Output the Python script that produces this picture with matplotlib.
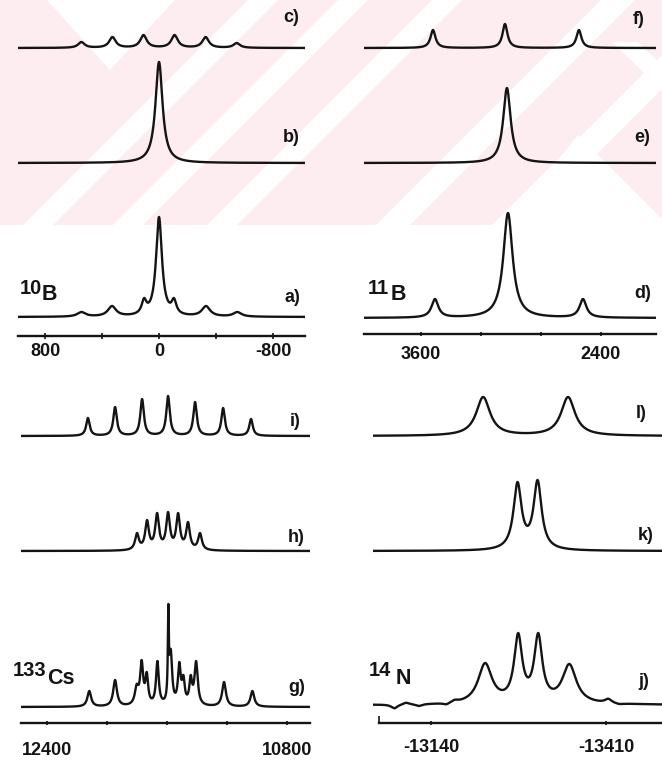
import numpy as np
import matplotlib
matplotlib.use("Agg")
import matplotlib.pyplot as plt
from matplotlib.patches import Polygon, Rectangle

W, H = 662, 760

# ---------------- data ----------------
# 10B panel: a) b) c)
xlim_10B = (990, -1025)
ticks_10B = [800, 0, -800]
minor_10B = [400, -400]
c_pos = [545, 327, 109, -109, -327, -545]
c_hgt = [6, 11, 13, 13, 11, 5]
c_fwhm = [55, 55, 55, 55, 55, 55]
b_pos = [0]
b_hgt = [101]
b_fwhm = [60]
a_pos = [545, 330, 105, 0, -105, -330, -550]
a_hgt = [5, 11, 19, 100, 19, 11, 5]
a_fwhm = [70, 70, 40, 50, 40, 70, 70]

# 11B panel: d) e) f)
xlim_11B = (3980, 2033)
ticks_11B = [3600, 2400]
minor_11B = [3200, 2800]
f_pos = [3520, 3040, 2547]
f_hgt = [18, 24, 18]
f_fwhm = [40, 40, 40]
e_pos = [3027]
e_hgt = [75]
e_fwhm = [60]
d_pos = [3507, 3020, 2520]
d_hgt = [19, 105, 19]
d_fwhm = [55, 75, 55]

# 133Cs panel: g) h) i)
xlim_Cs = (12573, 10647)
ticks_Cs = [12400, 10800]
minor_Cs = [12000, 11600, 11200]
i_pos = [12127, 11946, 11766, 11593, 11413, 11226, 11040]
i_hgt = [18, 29, 37, 40, 34, 28, 17]
i_fwhm = [28, 28, 28, 28, 28, 28, 28]
h_pos = [11800, 11733, 11666, 11593, 11526, 11460, 11380]
h_hgt = [18, 31, 38, 39, 38, 29, 18]
h_fwhm = [30, 30, 30, 30, 30, 30, 30]
g_pos = [12118, 11946, 11802, 11769, 11735, 11664, 11591, 11575,
         11518, 11491, 11442, 11406, 11220, 11031]
g_hgt = [16, 27, 23, 47, 35, 46, 103, 58, 45, 32, 32, 46, 25, 16]
g_fwhm = [30, 30, 30, 24, 22, 22, 8, 22, 22, 22, 22, 26, 30, 30]

# 14N panel: j) k) l)
xlim_N = (-13050, -13496)
ticks_N = [-13140, -13410]
l_pos = [-13220, -13351]
l_hgt = [39, 39]
l_fwhm = [26, 26]
k_pos = [-13273, -13304]
k_hgt = [69, 71]
k_fwhm = [15, 15]
j_pos = [-13223, -13274, -13305, -13353]
j_hgt = [42, 72, 72, 41]
j_fwhm = [26, 15, 15, 26]
j_wig_pos = [-13083, -13101, -13121, -13163, -13176, -13413, -13430]
j_wig_amp = [-4, 2, -2, -2, 2, 4, -1]
j_wig_fwhm = [12, 12, 12, 12, 12, 12, 12]


# ---------------- helpers ----------------
def lor(x, x0, w):
    return 1.0 / (1.0 + ((x - x0) / (w / 2.0)) ** 2)


def spectrum(x, pos, hgt, fwhm):
    pos = np.asarray(pos, float)
    hgt = np.asarray(hgt, float)
    fwhm = np.asarray(fwhm, float)
    A = np.array([[lor(p, pj, wj) for pj, wj in zip(pos, fwhm)] for p in pos])
    amp = np.linalg.solve(A, hgt)
    amp = np.clip(amp, 0, None)
    y = np.zeros_like(x)
    for p, w, a in zip(pos, fwhm, amp):
        y += a * lor(x, p, w)
    return y


def fx(px):
    return px / W


def fy(py):
    return 1 - py / H


fig = plt.figure(figsize=(W / 100, H / 100), dpi=100)
fig.patch.set_facecolor("white")

# ---- faint watermark in the upper part ----
bg = fig.add_axes([0, 0, 1, 1], zorder=-5)
bg.set_xlim(0, W)
bg.set_ylim(H, 0)
bg.axis("off")
pink = "#fdecf0"
bg.add_patch(Rectangle((0, 0), W, 225, facecolor=pink, edgecolor="none"))


def band(c, width):
    # white band rising to the right: x + y = c
    return Polygon([(c - width / 2, 0), (c + width / 2, 0),
                    (c + width / 2 - 225, 225), (c - width / 2 - 225, 225)],
                   closed=True, facecolor="white", edgecolor="none")


for c, wd in [(263, 30), (353, 30), (447, 30), (618, 34), (734, 34)]:
    bg.add_patch(band(c, wd))
bg.add_patch(Polygon([(47, 0), (175, 0), (110, 70)], closed=True,
                     facecolor="white", edgecolor="none"))
bg.add_patch(Polygon([(612, 42), (638, 42), (698, 100), (672, 100)], closed=True,
                     facecolor="white", edgecolor="none"))
bg.add_patch(Polygon([(578, 135), (505, 225), (668, 225)], closed=True,
                     facecolor="white", edgecolor="none"))

LW = 1.7
INK = "#141414"
FONT = "Liberation Sans"


def add_ax(l, r, b, t, xlim, ticks, minor, pad):
    ax = fig.add_axes([fx(l), fy(b), (r - l) / W, (b - t) / H])
    ax.patch.set_alpha(0)
    for s in ["top", "left", "right"]:
        ax.spines[s].set_visible(False)
    ax.spines["bottom"].set_linewidth(1.7)
    ax.spines["bottom"].set_color(INK)
    ax.set_yticks([])
    ax.set_ylim(0, b - t)
    ax.set_xlim(*xlim)
    ax.set_xticks(ticks)
    ax.set_xticklabels([f"{t:d}" for t in ticks])
    ax.set_xticks(minor, minor=True)
    ax.tick_params(axis="x", which="both", direction="inout", length=5,
                   width=1.2, color=INK, pad=pad, labelsize=13)
    for lab in ax.get_xticklabels():
        lab.set_fontfamily(FONT)
        lab.set_fontweight("bold")
        lab.set_color(INK)
    return ax


def draw(ax, xlim, base, pos, hgt, fwhm, extra=None):
    x = np.linspace(xlim[0], xlim[1], 4000)
    y = base + spectrum(x, pos, hgt, fwhm)
    if extra is not None:
        y = y + extra(x)
    ax.plot(x, y, color=INK, lw=LW, solid_capstyle="round")


# top-left 10B
ax1 = add_ax(18, 305, 336, 0, xlim_10B, ticks_10B, minor_10B, 2.5)
draw(ax1, xlim_10B, 19, a_pos, a_hgt, a_fwhm)
draw(ax1, xlim_10B, 173, b_pos, b_hgt, b_fwhm)
draw(ax1, xlim_10B, 288, c_pos, c_hgt, c_fwhm)

# top-right 11B
ax2 = add_ax(364, 656, 334, 0, xlim_11B, ticks_11B, minor_11B, 7.0)
ax2.tick_params(axis="x", which="both", length=3)
draw(ax2, xlim_11B, 16, d_pos, d_hgt, d_fwhm)
draw(ax2, xlim_11B, 171, e_pos, e_hgt, e_fwhm)
draw(ax2, xlim_11B, 286, f_pos, f_hgt, f_fwhm)

# bottom-left 133Cs
ax3 = add_ax(21, 310, 723, 380, xlim_Cs, ticks_Cs, minor_Cs, 11.9)
ax3.tick_params(axis="x", which="both", length=3)
draw(ax3, xlim_Cs, 16, g_pos, g_hgt, g_fwhm)
draw(ax3, xlim_Cs, 172, h_pos, h_hgt, h_fwhm)
draw(ax3, xlim_Cs, 287, i_pos, i_hgt, i_fwhm)

# bottom-right 14N
ax4 = add_ax(373, 662, 723, 380, xlim_N, ticks_N, [-13060], 9.7)
ax4.tick_params(axis="x", which="both", length=3)
ax4.tick_params(axis="x", which="minor", direction="in", length=5)
ax4.spines["bottom"].set_bounds(-13060, xlim_N[1])


def j_wiggle(x):
    out = np.zeros_like(x)
    for p, a, w in zip(j_wig_pos, j_wig_amp, j_wig_fwhm):
        out += a * lor(x, p, w)
    return out


draw(ax4, xlim_N, 18, j_pos, j_hgt, j_fwhm, extra=j_wiggle)
draw(ax4, xlim_N, 172, k_pos, k_hgt, k_fwhm)
draw(ax4, xlim_N, 287, l_pos, l_hgt, l_fwhm)

# ---------------- labels ----------------
labels = [("c)", 291, 18), ("b)", 291, 137), ("a)", 292, 298),
          ("f)", 639, 20), ("e)", 642, 137), ("d)", 643, 294),
          ("i)", 295, 422), ("h)", 296, 537), ("g)", 297, 688),
          ("l)", 641, 413), ("k)", 646, 536), ("j)", 644, 682)]
for s, x, y in labels:
    fig.text(fx(x), fy(y), s, ha="center", va="center", fontsize=13,
             fontweight="bold", family=FONT, color=INK)

# mass number (left edge, centre y) and element symbol (left edge, centre y)
nuclei = [("10", 20, 288, "B", 42, 295),
          ("11", 368, 289, "B", 391, 295),
          ("133", 13, 670, "Cs", 47, 679),
          ("14", 369, 670, "N", 396, 679)]
for m, mx, my, el, ex, ey in nuclei:
    fig.text(fx(mx), fy(my), m, ha="left", va="center", fontsize=14.5,
             fontweight="bold", family=FONT, color=INK)
    fig.text(fx(ex), fy(ey), el, ha="left", va="center", fontsize=15.5,
             fontweight="bold", family=FONT, color=INK)

fig.savefig("out.png", dpi=100, facecolor="white")
